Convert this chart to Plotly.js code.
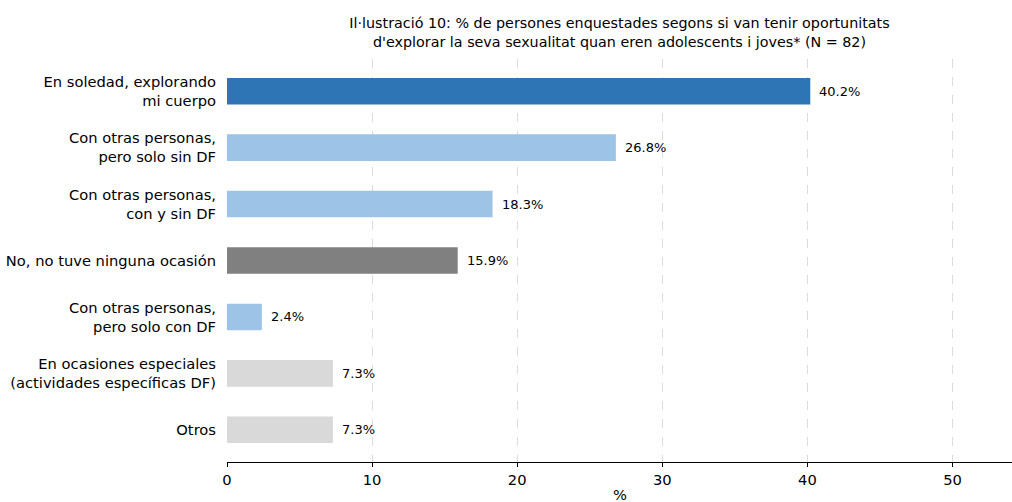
<!DOCTYPE html>
<html>
<head>
<meta charset="utf-8">
<script src="https://cdn.plot.ly/plotly-3.0.1.min.js"></script>
<style>html,body{margin:0;padding:0;background:#fff;}#chart{width:1012px;height:502px;}</style>
</head>
<body>
<div id="chart"></div>
<script>
const categories = [
  "En soledad, explorando<br>mi cuerpo",
  "Con otras personas,<br>pero solo sin DF",
  "Con otras personas,<br>con y sin DF",
  "No, no tuve ninguna ocasión",
  "Con otras personas,<br>pero solo con DF",
  "En ocasiones especiales<br>(actividades específicas DF)",
  "Otros"
];
const values = [40.2, 26.8, 18.3, 15.9, 2.4, 7.3, 7.3];
const valueLabels = ["40.2%", "26.8%", "18.3%", "15.9%", "2.4%", "7.3%", "7.3%"];
const barColors = ["#2E75B6", "#9DC3E6", "#9DC3E6", "#808080", "#9DC3E6", "#D9D9D9", "#D9D9D9"];
const xTicks = [0, 10, 20, 30, 40, 50];
const xTitle = "%";
const titleText = "Il·lustració 10: % de persones enquestades segons si van tenir oportunitats<br>d'explorar la seva sexualitat quan eren adolescents i joves* (N = 82)";

const font = "DejaVu Sans, sans-serif";

const trace = {
  type: "bar",
  orientation: "h",
  y: categories,
  x: values,
  width: 0.47,
  marker: {color: barColors, line: {width: 0}},
  hoverinfo: "none"
};

const annotations = values.map((v, i) => ({
  x: v, y: categories[i], xref: "x", yref: "y",
  text: valueLabels[i], showarrow: false,
  xanchor: "left", yanchor: "middle", xshift: 7,
  font: {family: font, size: 13, color: "#000"}
}));
annotations.push({
  x: 0.5, y: 0, xref: "paper", yref: "paper",
  text: xTitle, showarrow: false,
  xanchor: "center", yanchor: "top", yshift: -22,
  font: {family: font, size: 14.7, color: "#000"}
});

const layout = {
  width: 1012, height: 502,
  margin: {l: 227, r: 0, t: 59, b: 40, pad: 0},
  paper_bgcolor: "#fff", plot_bgcolor: "#fff",
  font: {family: font, size: 14, color: "#000"},
  title: {
    text: titleText, x: 0.5, xref: "paper", xanchor: "center",
    y: 1 - 28 / 502, yref: "container", yanchor: "top",
    font: {family: font, size: 14.3, color: "#000"}
  },
  showlegend: false,
  xaxis: {
    range: [0, 54.1],
    tickvals: xTicks,
    ticktext: xTicks.map(String),
    showgrid: true, gridcolor: "#dcdcdc", griddash: "dash", gridwidth: 1,
    zeroline: false,
    showline: true, linecolor: "#000", linewidth: 1.2,
    ticks: "outside", ticklen: 4, tickcolor: "#000", tickwidth: 1,
    tickfont: {family: font, size: 14.7, color: "#000"},
    fixedrange: true
  },
  yaxis: {
    type: "category",
    categoryorder: "array", categoryarray: categories,
    range: [6.57, -0.57],
    showgrid: false, zeroline: false, showline: false,
    ticks: "", ticklabelstandoff: 10,
    tickfont: {family: font, size: 14.7, color: "#000"},
    fixedrange: true
  },
  annotations: annotations
};

Plotly.newPlot("chart", [trace], layout, {displayModeBar: false, staticPlot: true});
</script>
</body>
</html>
